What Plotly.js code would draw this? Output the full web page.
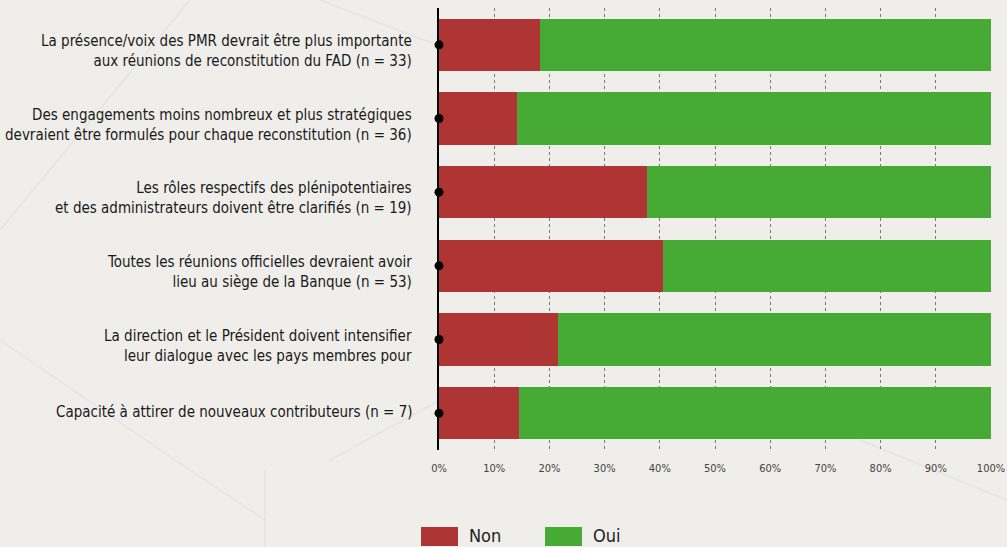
<!DOCTYPE html>
<html>
<head>
<meta charset="utf-8">
<script src="https://cdn.plot.ly/plotly-3.0.1.min.js"></script>
<style>
html,body{margin:0;padding:0;background:#efeeea;}
#chart{width:1007px;height:547px;}
</style>
</head>
<body>
<div id="chart"></div>
<script>
// Categories (top to bottom)
const categories = [
  "La présence/voix des PMR devrait être plus importante<br>aux réunions de reconstitution du FAD (n = 33)",
  "Des engagements moins nombreux et plus stratégiques<br>devraient être formulés pour chaque reconstitution (n = 36)",
  "Les rôles respectifs des plénipotentiaires<br>et des administrateurs doivent être clarifiés (n = 19)",
  "Toutes les réunions officielles devraient avoir<br>lieu au siège de la Banque (n = 53)",
  "La direction et le Président doivent intensifier<br>leur dialogue avec les pays membres pour",
  "Capacité à attirer de nouveaux contributeurs (n = 7)"
];
// Shares (%)
const nonValues = [18.3, 14.1, 37.7, 40.6, 21.6, 14.5];
const ouiValues = [81.7, 85.9, 62.3, 59.4, 78.4, 85.5];
const seriesNames = ["Non", "Oui"];
const seriesColors = ["#af3535", "#47aa35"];
const xTickVals = [0,10,20,30,40,50,60,70,80,90,100];
const xTickText = ["0%","10%","20%","30%","40%","50%","60%","70%","80%","90%","100%"];
const anchorX = categories.map(() => 0);

const labelFont = "'Liberation Sans Narrow', 'DejaVu Sans Condensed', 'Liberation Sans', sans-serif";

const traces = [
  {type:'bar', orientation:'h', name:seriesNames[0], y:categories, x:nonValues,
   marker:{color:seriesColors[0]}, hoverinfo:'x+name'},
  {type:'bar', orientation:'h', name:seriesNames[1], y:categories, x:ouiValues,
   marker:{color:seriesColors[1]}, hoverinfo:'x+name'},
  {type:'scatter', mode:'markers', x:anchorX, y:categories, showlegend:false,
   marker:{color:'#000', size:9}, cliponaxis:false, hoverinfo:'skip'}
];

// helpers to place decoration in pixel terms
const PL = 439, PW = 552, PB = 97, PH = 442;
const px = v => (v - PL) / PW;
const py = v => (547 - v - PB) / PH;

const bgLines = [
  [0,230,190,0],[320,0,450,50],[0,340,175,460],[450,395,330,460],
  [265,470,265,547],[860,440,1007,500],[175,460,265,520]
].map(c => ({type:'line', xref:'paper', yref:'paper', layer:'below',
   x0:px(c[0]), y0:py(c[1]), x1:px(c[2]), y1:py(c[3]),
   line:{color:'rgba(0,0,0,0.03)', width:2}}));

// custom legend swatches (wide rectangles like the reference)
const legendX = [421, 545];
const legendShapes = seriesNames.map((n,i) => ({type:'rect', xref:'paper', yref:'paper',
   x0:px(legendX[i]), x1:px(legendX[i]+37), y0:py(546), y1:py(527),
   fillcolor:seriesColors[i], line:{width:0}}));
const legendAnn = seriesNames.map((n,i) => ({xref:'paper', yref:'paper',
   x:px(legendX[i]+46), y:py(535), xanchor:'left', yanchor:'middle', showarrow:false,
   text:n, font:{family:labelFont, size:18, color:'#222'}}));

// category labels as annotations (two-line labels sit a little low, as in the reference)
const labelAnn = categories.map(c => ({xref:'paper', yref:'y', x:0, y:c, xshift:-25,
   yshift: c.includes('<br>') ? -6 : 1,
   xanchor:'right', yanchor:'middle', align:'right', showarrow:false, text:c,
   font:{family:labelFont, size:15, color:'#1a1a1a'}}));

const layout = {
  width:1007, height:547,
  paper_bgcolor:'#efeeea', plot_bgcolor:'rgba(0,0,0,0)',
  margin:{l:PL, r:16, t:8, b:PB, autoexpand:false},
  barmode:'stack', bargap:0.29,
  showlegend:false,
  xaxis:{range:[0,100], tickvals:xTickVals, ticktext:xTickText,
         showgrid:true, gridcolor:'#777', griddash:'dot', gridwidth:1,
         zeroline:false, showline:false, ticks:'', fixedrange:true, ticklabelstandoff:10,
         tickfont:{family:labelFont, size:11, color:'#444'}},
  yaxis:{autorange:'reversed', showline:true, linecolor:'#000', linewidth:2,
         ticks:'', showticklabels:false, showgrid:false, zeroline:false},
  shapes: bgLines.concat(legendShapes),
  annotations: labelAnn.concat(legendAnn),
  font:{family:labelFont}
};

Plotly.newPlot('chart', traces, layout, {displayModeBar:false, staticPlot:true});
</script>
</body>
</html>
